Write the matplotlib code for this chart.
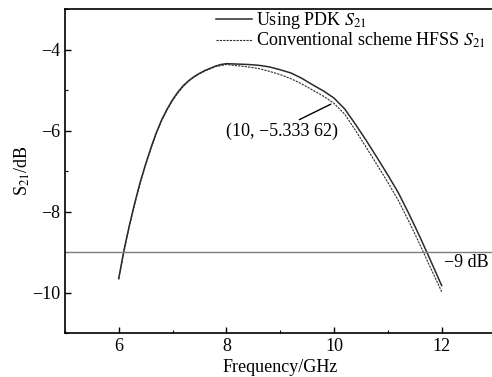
import numpy as np
import matplotlib
matplotlib.use("Agg")
import matplotlib.pyplot as plt
from matplotlib.ticker import MultipleLocator

plt.rcParams['font.family'] = ['Liberation Serif', 'DejaVu Serif']
plt.rcParams['mathtext.fontset'] = 'stix'
plt.rcParams['font.size'] = 13

# frequency points (GHz)
freq = [6.0, 6.1, 6.2, 6.3, 6.4, 6.5, 6.6, 6.7, 6.8, 6.9, 7.0, 7.1, 7.2, 7.3,
        7.4, 7.5, 7.6, 7.8, 7.9, 8.0, 8.2, 8.4, 8.6, 8.8, 9.0, 9.2, 9.4, 9.6,
        9.8, 10.0, 10.2, 10.4, 10.6, 10.8, 11.0, 11.2, 11.4, 11.6, 11.8, 12.0]

# S21 using PDK (dB)
s21_pdk = [-9.65, -8.94, -8.33, -7.78, -7.27, -6.83, -6.42, -6.05, -5.73, -5.47,
           -5.24, -5.05, -4.89, -4.77, -4.67, -4.59, -4.52, -4.41, -4.37, -4.35,
           -4.36, -4.37, -4.39, -4.43, -4.50, -4.58, -4.71, -4.87, -5.02, -5.20,
           -5.47, -5.85, -6.25, -6.67, -7.10, -7.55, -8.08, -8.64, -9.23, -9.83]

# S21 from conventional scheme, HFSS (dB)
s21_hfss = [-9.68, -8.97, -8.35, -7.80, -7.29, -6.85, -6.44, -6.07, -5.75, -5.49,
            -5.26, -5.07, -4.91, -4.78, -4.68, -4.60, -4.53, -4.42, -4.40, -4.37,
            -4.40, -4.43, -4.47, -4.54, -4.62, -4.72, -4.85, -5.00, -5.15, -5.33,
            -5.60, -6.00, -6.42, -6.85, -7.28, -7.74, -8.27, -8.83, -9.41, -9.98]

threshold = -9.0

fig = plt.figure(figsize=(4.92, 3.77), dpi=100)
ax = fig.add_axes([64.9 / 492, 44 / 377, 430.6 / 492, 324 / 377])

ax.plot(freq, s21_pdk, color='#2a2a2a', linewidth=1.1, label=r'Using PDK $S_{21}$')
ax.plot(freq, s21_hfss, color='#2a2a2a', linewidth=0.8, linestyle=(0, (2, 1)),
        label=r'Conventional scheme HFSS $S_{21}$')
ax.axhline(threshold, color='#7f7f7f', linewidth=1.0)
ax.text(12.05, -9.27, '−9 dB', ha='left', va='center', fontsize=13)

ax.annotate('(10, −5.333 62)', xy=(9.94, -5.35), xytext=(9.04, -6.03),
            ha='center', va='center', fontsize=13,
            arrowprops=dict(arrowstyle='-', color='black', lw=1.0,
                            shrinkA=1, shrinkB=0, relpos=(0.59, 1.0)))

ax.set_xlim(5, 13)
ax.set_ylim(-11, -3)
ax.xaxis.set_major_locator(MultipleLocator(2))
ax.xaxis.set_minor_locator(MultipleLocator(1))
ax.yaxis.set_major_locator(MultipleLocator(2))
ax.yaxis.set_minor_locator(MultipleLocator(1))
ax.tick_params(which='major', direction='in', length=4, width=1.0, labelsize=13)
ax.tick_params(which='minor', direction='in', length=2.5, width=0.8)
for sp in ax.spines.values():
    sp.set_linewidth(1.2)

ax.set_xlabel('Frequency/GHz', fontsize=13, labelpad=3)
ax.set_ylabel(r'S$_{\mathrm{21}}$/dB', fontsize=13, labelpad=0)

ax.legend(loc='upper left', bbox_to_anchor=(207 / 492, 1 - 1 / 377),
          bbox_transform=fig.transFigure, frameon=False, borderpad=0,
          handlelength=2.0, handletextpad=0.2, labelspacing=0.0, fontsize=13)

fig.savefig('out.png', dpi=100)
